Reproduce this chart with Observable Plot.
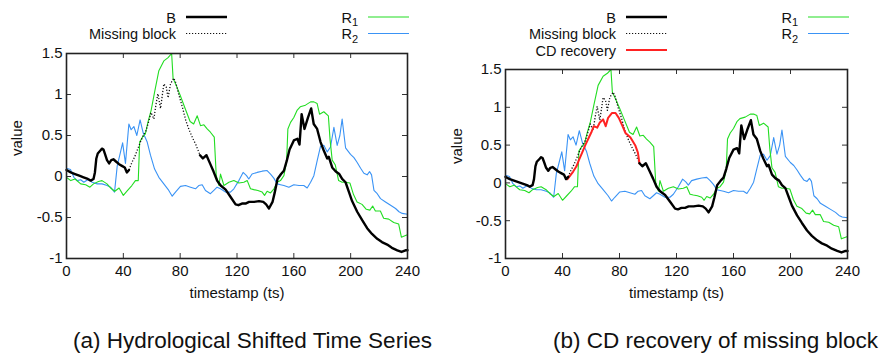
<!DOCTYPE html>
<html>
<head>
<meta charset="utf-8">
<script src="https://cdn.jsdelivr.net/npm/d3@7"></script>
<script src="https://cdn.jsdelivr.net/npm/@observablehq/plot@0.6"></script>
<style>
  html, body { margin: 0; padding: 0; background: #fff; }
  #wrap { position: relative; width: 883px; height: 353px; overflow: hidden; background: #fff; }
  #wrap > * { position: absolute; }
  #overlay { left: 0; top: 0; pointer-events: none; }
</style>
</head>
<body>
<div id="wrap"></div>
<script>
// ---------- data (timestamp, value) ----------
const xTicks = [0, 40, 80, 120, 160, 200, 240];
const yTicks = [-1, -0.5, 0, 0.5, 1, 1.5];

const B_before = [[0,0.08],[3,0.05],[6,0.03],[9,0.01],[12,-0.01],[15,-0.03],[17,-0.05],[19,-0.03],[20,0.05],[21,0.22],[22,0.28],[24,0.32],[25,0.34],[26,0.33],[27,0.28],[28.5,0.2],[30,0.16],[31.5,0.2],[33,0.21],[35,0.18],[37,0.15],[39,0.13],[41,0.11],[42.5,0.05],[44,0.08]];

const missingBlock = [[44,0.08],[46,0.17],[48,0.24],[50,0.33],[52,0.42],[54,0.5],[56,0.56],[58,0.68],[59.5,0.78],[61.5,0.7],[63,0.88],[64.3,1.01],[66.2,0.83],[68.5,1.13],[70.2,1.09],[71.5,0.96],[73.2,1.13],[75.5,1.2],[77,1.14],[79,1.0],[81.5,0.85],[84,0.68],[86.5,0.56],[89,0.46],[91,0.39],[94,0.26]];

const B_after = [[94,0.26],[96,0.22],[98.5,0.26],[101,0.16],[103.5,0.06],[106,-0.05],[108.5,-0.11],[112,-0.16],[115.5,-0.25],[119,-0.34],[121,-0.35],[123.5,-0.33],[126,-0.33],[128.5,-0.31],[132,-0.31],[135.5,-0.3],[138.5,-0.31],[140.5,-0.34],[142.5,-0.39],[145,-0.31],[146.5,-0.2],[148.5,-0.03],[151,0.03],[153,0.07],[155,0.19],[157,0.33],[160,0.44],[162.5,0.46],[164,0.39],[165.5,0.76],[167.5,0.58],[170,0.72],[172.2,0.83],[174,0.64],[176.4,0.58],[178.8,0.42],[181,0.32],[183.5,0.22],[184.6,0.24],[187,0.11],[189.5,0.06],[192,0.03],[194,-0.03],[196.4,-0.07],[199,-0.2],[201,-0.3],[204.6,-0.43],[208,-0.53],[211.6,-0.63],[215,-0.7],[218.7,-0.76],[222,-0.8],[225.7,-0.83],[229,-0.87],[232.8,-0.9],[235.8,-0.92],[238.6,-0.9],[240,-0.9]];

const R1 = [[0,-0.01],[3,-0.05],[6,-0.03],[10,-0.09],[13.5,-0.1],[16.5,-0.13],[19,-0.09],[22.5,-0.06],[25,-0.05],[28.5,-0.09],[31,-0.14],[34,-0.18],[37,-0.14],[40,-0.23],[43,-0.17],[46,-0.11],[48.5,-0.05],[50.5,-0.05],[51.5,0.42],[53.5,0.48],[55.5,0.52],[57.3,0.66],[59.6,0.81],[62,1.03],[65,1.29],[68.5,1.41],[71.5,1.45],[74,1.5],[75,1.2],[77,1.12],[80,0.99],[83.5,0.83],[87,0.67],[89.5,0.64],[92,0.74],[94.3,0.62],[96.7,0.63],[99,0.58],[101.3,0.54],[104,0.48],[105.4,0.01],[107.3,-0.11],[108.4,0.03],[110.8,-0.11],[114.3,-0.07],[117.8,-0.05],[121.3,-0.08],[124.8,-0.07],[127.2,-0.05],[129.5,-0.15],[131.8,-0.16],[134.7,-0.17],[137.7,-0.19],[139.4,-0.23],[141.2,-0.18],[143.6,-0.2],[146,-0.15],[148.3,-0.07],[150.6,-0.05],[153,0.01],[154.9,0.18],[155.8,0.58],[157.7,0.66],[160,0.72],[162.4,0.81],[164.5,0.85],[168.2,0.87],[171.8,0.91],[174.1,0.91],[176.4,0.89],[178.1,0.76],[181.1,0.79],[184.3,0.74],[185.5,0.45],[187,0.2],[189.2,0.14],[191.5,-0.05],[194,-0.07],[196.2,-0.07],[199.5,-0.08],[202,-0.22],[204.5,-0.31],[208,-0.34],[211,-0.4],[213.5,-0.41],[215.5,-0.36],[217.4,-0.42],[220.9,-0.42],[223.2,-0.51],[226.8,-0.52],[230.3,-0.56],[233.8,-0.58],[235.7,-0.74],[238.6,-0.72],[240,-0.71]];

const R2 = [[0,0.1],[2.8,0.085],[5.2,-0.01],[7.5,-0.05],[10,-0.04],[12.2,-0.07],[15.7,-0.03],[18,-0.07],[21.6,-0.09],[25,-0.09],[28.6,-0.11],[31,-0.13],[33.8,-0.19],[35.7,0.13],[37.5,0.26],[39.5,0.41],[41.5,0.16],[43.9,0.64],[45.5,0.57],[47.4,0.61],[49.5,0.5],[51.8,0.69],[54,0.53],[56.8,0.42],[59.1,0.26],[62,0.09],[65,-0.01],[68.5,-0.09],[72,-0.17],[74.4,-0.24],[76.7,-0.19],[80.2,-0.12],[83.8,-0.11],[87.3,-0.13],[90.8,-0.15],[93.1,-0.11],[95.5,-0.1],[97.8,-0.17],[101.3,-0.21],[103.7,-0.17],[106,-0.13],[108.4,-0.15],[111.9,-0.19],[115.4,-0.19],[117.8,-0.15],[121.3,-0.05],[124.3,0.05],[126.7,0.01],[128.3,-0.03],[130.6,0.03],[134.2,0.05],[137.7,0.065],[141.2,0.073],[143.6,0.03],[145.9,-0.02],[148.3,-0.09],[150.6,-0.1],[153,-0.11],[156.5,-0.13],[160,-0.1],[163.6,-0.11],[167,-0.11],[169.4,-0.14],[171.8,-0.07],[174.1,0.01],[176.4,0.19],[178.8,0.37],[181.1,0.38],[183.5,0.3],[185.8,0.36],[188.2,0.6],[190.5,0.38],[192.4,0.5],[194,0.7],[196.4,0.35],[199.9,0.27],[202.3,0.23],[204.6,0.17],[207,0.1],[209.3,0.04],[211.6,0.02],[213.3,0.06],[214.7,0.02],[216.4,-0.17],[218.7,-0.21],[221,-0.27],[224.5,-0.31],[228.1,-0.35],[231.6,-0.39],[234,-0.43],[236.3,-0.45],[240,-0.46]];

const CDrecovery = [[43.5,0.05],[45.5,0.1],[47.5,0.15],[49.8,0.22],[51.5,0.3],[53.8,0.4],[56,0.5],[58.5,0.6],[60.5,0.68],[62,0.75],[64.3,0.73],[66.2,0.8],[68.5,0.84],[70.3,0.75],[72,0.86],[74.8,0.925],[77.2,0.925],[79.5,0.86],[81.9,0.76],[84.2,0.66],[87.7,0.6],[91.2,0.49],[92.9,0.4],[94,0.26]];

const captions = ["(a) Hydrological Shifted Time Series", "(b) CD recovery of missing block"];

// ---------- styles ----------
const FONT = "'Liberation Sans', Arial, Helvetica, sans-serif";
const C_B = "#000", C_R1 = "#22dd22", C_R2 = "#3a93f5", C_CD = "#ff2222";
const DOT = "1.2,1.8";

function chart({width, height, ml, mr, mt, mb, withCD, titleDx}) {
  const fw = width - ml - mr, fh = height - mt - mb;
  const X = d => d[0], Y = d => d[1];
  const marks = [
    Plot.line(R2, {x: X, y: Y, stroke: C_R2, strokeWidth: 1.1}),
    Plot.line(R1, {x: X, y: Y, stroke: C_R1, strokeWidth: 1.1}),
    Plot.line(missingBlock, {x: X, y: Y, stroke: "#111", strokeWidth: 1.3, strokeDasharray: DOT, strokeLinecap: "butt"}),
  ];
  if (withCD) marks.push(Plot.line(CDrecovery, {x: X, y: Y, stroke: C_CD, strokeWidth: 2}));
  marks.push(
    Plot.line(B_before, {x: X, y: Y, stroke: C_B, strokeWidth: 2.4}),
    Plot.line(B_after, {x: X, y: Y, stroke: C_B, strokeWidth: 2.4}),
    // inward ticks on all four sides
    Plot.ruleX(xTicks, {x: d => d, insetTop: fh - 5, stroke: "#333", strokeWidth: 1}),
    Plot.ruleX(xTicks, {x: d => d, insetBottom: fh - 5, stroke: "#333", strokeWidth: 1}),
    Plot.ruleY(yTicks, {y: d => d, insetRight: fw - 5, stroke: "#333", strokeWidth: 1}),
    Plot.ruleY(yTicks, {y: d => d, insetLeft: fw - 5, stroke: "#333", strokeWidth: 1}),
    Plot.frame({stroke: "#222", strokeWidth: 1.6}),
    // tick labels
    Plot.text(xTicks, {x: d => d, text: d => String(d), frameAnchor: "bottom", dy: 17, fill: "#111"}),
    Plot.text(yTicks, {y: d => d, text: d => String(d), frameAnchor: "left", textAnchor: "end", dx: -4, fill: "#111"}),
    // axis titles
    Plot.text(["timestamp (ts)"], {text: d => d, frameAnchor: "bottom", dy: 39, fill: "#111"}),
    Plot.text(["value"], {text: d => d, frameAnchor: "left", dx: titleDx, rotate: -90, fill: "#111"})
  );
  return Plot.plot({
    width, height,
    marginLeft: ml, marginRight: mr, marginTop: mt, marginBottom: mb,
    x: {domain: [0, 240], axis: null},
    y: {domain: [-1, 1.5], axis: null},
    style: {fontFamily: FONT, fontSize: "15px", background: "transparent", overflow: "visible"},
    marks
  });
}

const wrap = document.getElementById("wrap");
const left = chart({width: 440, height: 310, ml: 66, mr: 33, mt: 53, mb: 52, withCD: false, titleDx: -49});
left.style.left = "0px"; left.style.top = "0px";
wrap.appendChild(left);
const right = chart({width: 443, height: 310, ml: 65, mr: 36, mt: 69, mb: 52, withCD: true, titleDx: -48});
right.style.left = "440px"; right.style.top = "0px";
wrap.appendChild(right);

// ---------- legends & captions ----------
const svg = d3.select(wrap).append("svg").attr("id", "overlay")
  .attr("width", 883).attr("height", 353)
  .style("font-family", FONT).style("font-size", "14.5px");

function legendEntry(g, tx, base, label, sub, color, width, dash) {
  const t = g.append("text").attr("x", tx).attr("y", base).attr("text-anchor", "end").attr("fill", "#111");
  t.append("tspan").text(label);
  if (sub) t.append("tspan").attr("dy", 3.5).attr("font-size", "11px").text(sub);
  g.append("line").attr("x1", tx + 10).attr("x2", tx + 51).attr("y1", base - 5.5).attr("y2", base - 5.5)
    .attr("stroke", color).attr("stroke-width", width).attr("stroke-dasharray", dash || null);
}
function legends(ox, withCD) {
  const g = svg.append("g").attr("transform", `translate(${ox},0)`);
  legendEntry(g, 176, 22.5, "B", null, C_B, 2.4);
  legendEntry(g, 176, 39, "Missing block", null, "#111", 1.2, DOT);
  if (withCD) legendEntry(g, 176, 55.5, "CD recovery", null, C_CD, 2);
  legendEntry(g, 358, 22.5, "R", "1", C_R1, 1.2);
  legendEntry(g, 358, 39, "R", "2", C_R2, 1.2);
}
legends(0, false);
legends(440, true);

svg.append("text").attr("x", 73).attr("y", 348).attr("font-size", "22.5px").attr("fill", "#111").text(captions[0]);
svg.append("text").attr("x", 878).attr("y", 348).attr("font-size", "22.5px").attr("text-anchor", "end").attr("fill", "#111").text(captions[1]);
</script>
</body>
</html>
